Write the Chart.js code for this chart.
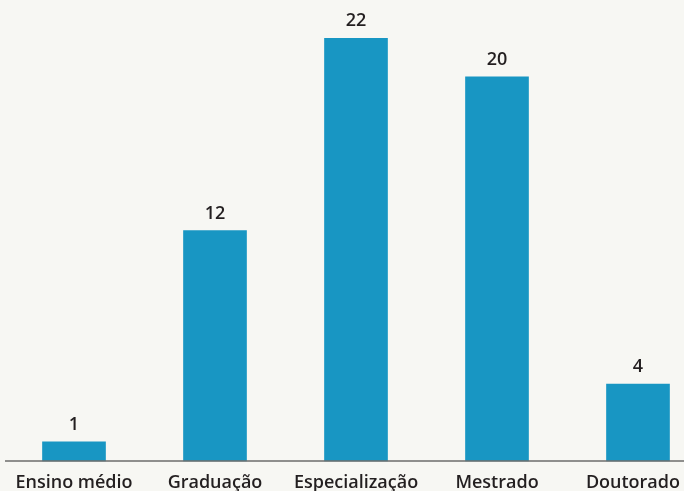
<!DOCTYPE html>
<html>
<head>
<meta charset="utf-8">
<script src="https://cdn.jsdelivr.net/npm/chart.js@4"></script>
<style>
    html, body { margin: 0; padding: 0; background: #f7f7f3; }
    #wrap { width: 684px; height: 491px; }
</style>
</head>
<body>
<div id="wrap"><canvas id="eduChart"></canvas></div>
<script>
// data
const categories = ['Ensino médio', 'Graduação', 'Especialização', 'Mestrado', 'Doutorado'];
const counts = [1, 12, 22, 20, 4];

const barColor = '#1896c3';
const textColor = '#231f20';
const fontFamily = "'Open Sans', 'Noto Sans', sans-serif";

// value labels, category labels and baseline across the full width
const extras = {
    id: 'extras',
    afterDatasetsDraw(chart) {
        const ctx = chart.ctx;
        const y0 = chart.scales.y.getPixelForValue(0);
        ctx.save();
        ctx.strokeStyle = '#6d6d6b';
        ctx.lineWidth = 1.5;
        ctx.beginPath();
        ctx.moveTo(5, y0);
        ctx.lineTo(chart.width, y0);
        ctx.stroke();

        ctx.fillStyle = textColor;
        ctx.font = '600 18px ' + fontFamily;
        ctx.textAlign = 'center';
        ctx.textBaseline = 'alphabetic';
        chart.getDatasetMeta(0).data.forEach((bar, i) => {
            ctx.fillText(counts[i], bar.x, bar.y - 12);
            // keep the last label inside the canvas
            const w = ctx.measureText(categories[i]).width;
            const lx = Math.min(bar.x, chart.width - 4 - w / 2);
            ctx.fillText(categories[i], lx, y0 + 27);
        });
        ctx.restore();
    }
};

const eduCtx = document.getElementById('eduChart').getContext('2d');
const eduChart = new Chart(eduCtx, {
    type: 'bar',
    data: {
        labels: categories,
        datasets: [{
            data: counts,
            backgroundColor: barColor,
            barThickness: 63,
            clip: false
        }]
    },
    options: {
        responsive: true,
        maintainAspectRatio: false,
        animation: false,
        layout: { padding: { left: 74, right: 46, top: 0, bottom: 30 } },
        plugins: {
            legend: { display: false },
            tooltip: { enabled: false }
        },
        scales: {
            x: {
                display: false,
                offset: false
            },
            y: {
                display: false,
                min: 0,
                max: 24
            }
        }
    },
    plugins: [extras]
});
</script>
</body>
</html>
